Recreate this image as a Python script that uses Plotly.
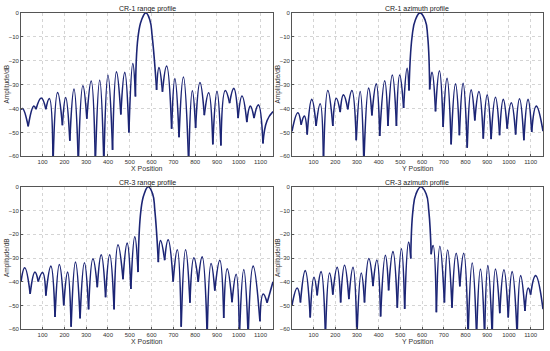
import plotly.graph_objects as go

# ---- data: vertex sequences (nulls / lobe peaks) ----
cr1_range_x = [1, 8, 34, 60, 70, 94, 115, 131, 148, 169, 191, 206, 225, 244, 264, 285, 303, 323, 342, 362, 381,
               400, 421, 439, 459, 477, 496, 514, 526, 538, 554, 574, 592, 603, 623, 634, 650, 669, 692, 707, 726,
               746, 770, 787, 802, 822, 842, 862, 881, 900, 918, 938, 958, 977, 997, 1015, 1037, 1053, 1070, 1090,
               1111, 1130, 1157]
cr1_range_y = [-40.5, -40.0, -47.5, -39.0, -40.3, -35.6, -40.3, -35.8, -63, -33.3, -47.0, -35.4, -53.5, -31.9, -63,
               -30.5, -44.3, -28.5, -63, -28.2, -63, -26.1, -57.3, -24.7, -42.5, -24.9, -50.0, -21.2, -35.0, -10, -3,
               0, -3, -10, -32.2, -22.9, -33.0, -22.2, -48.5, -27.5, -52.0, -26.8, -63, -32.6, -48.1, -29.1, -42.8,
               -33.4, -55.0, -32.8, -55.5, -32.5, -37.8, -31.6, -44.0, -34.8, -45.7, -39.0, -44.0, -38.5, -54.6,
               -45.0, -41.3]

cr1_azimuth_x = [1, 28, 43, 58, 71, 92, 112, 131, 146, 166, 189, 205, 223, 238, 258, 277, 297, 315, 332, 354, 369,
                 389, 405, 428, 443, 463, 482, 497, 515, 531, 540, 554, 569, 591, 614, 626, 635, 646, 662, 680, 697,
                 715, 734, 754, 772, 789, 808, 826, 843, 862, 882, 900, 918, 938, 957, 974, 992, 1011, 1031, 1049,
                 1069, 1088, 1105, 1126, 1157]
cr1_azimuth_y = [-49.5, -41.8, -46.8, -43.2, -50.9, -36.2, -47.3, -38.0, -63, -32.5, -47.3, -35.7, -41.5, -34.3,
                 -40.4, -32.5, -53.3, -32.9, -63, -31.5, -42.9, -29.7, -51.5, -28.4, -47.3, -26.0, -47.3, -26.0,
                 -39.8, -23.2, -32.5, -10, -3, 0, -3, -10, -32.0, -24.9, -41.2, -24.2, -47.7, -27.4, -55.0, -29.7,
                 -51.2, -29.5, -56.4, -32.2, -45.0, -32.9, -52.6, -34.3, -52.8, -35.3, -51.2, -36.2, -48.4, -37.6,
                 -50.9, -35.9, -53.3, -36.2, -49.8, -39.0, -49.5]

cr3_range_x = [1, 18, 43, 65, 80, 100, 115, 138, 157, 177, 197, 215, 231, 251, 272, 292, 311, 331, 351, 369, 389,
               408, 428, 446, 469, 488, 505, 523, 538, 551, 566, 585, 605, 615, 631, 641, 660, 676, 699, 718, 736,
               756, 776, 794, 814, 832, 855, 873, 890, 913, 931, 947, 969, 988, 1003, 1023, 1043, 1066, 1097, 1112,
               1130, 1157]
cr3_range_y = [-40.0, -34.1, -45.1, -35.9, -39.9, -36.1, -45.8, -33.4, -54.8, -32.7, -49.9, -35.9, -58.9, -31.7,
               -55.4, -32.0, -51.6, -30.3, -42.3, -28.6, -46.5, -28.6, -51.6, -24.4, -38.9, -23.7, -43.0, -21.0,
               -35.9, -10, -3, 0, -3, -10, -31.7, -22.6, -30.9, -22.3, -39.9, -26.5, -58.9, -26.5, -48.8, -29.9,
               -40.0, -29.5, -63, -32.3, -43.7, -30.9, -55.2, -34.5, -48.6, -36.8, -63, -34.8, -63, -33.4, -56.6,
               -45.1, -48.8, -40.0]

cr3_azimuth_x = [1, 25, 40, 62, 85, 102, 117, 135, 155, 174, 189, 209, 225, 243, 263, 282, 300, 320, 335, 355, 374,
                 392, 409, 431, 446, 466, 486, 505, 520, 538, 548, 558, 572, 595, 619, 631, 642, 651, 666, 682, 703,
                 718, 738, 757, 774, 792, 812, 831, 851, 869, 888, 903, 923, 938, 958, 977, 997, 1015, 1038, 1054,
                 1074, 1089, 1100, 1123, 1157]
cr3_azimuth_y = [-49.8, -42.6, -48.7, -35.3, -55.0, -38.1, -45.7, -35.7, -63, -36.3, -45.4, -33.9, -48.7, -33.0,
                 -47.3, -33.9, -63, -36.3, -48.7, -30.2, -41.8, -30.8, -54.6, -28.8, -43.6, -27.3, -50.9, -26.1,
                 -51.4, -23.3, -30.2, -10, -3, 0, -3, -10, -28.4, -24.7, -52.8, -25.0, -48.7, -26.6, -50.9, -28.0,
                 -41.9, -28.0, -63, -32.1, -63, -34.6, -63, -33.2, -63, -34.6, -53.2, -34.9, -55.0, -35.7, -63,
                 -37.4, -52.3, -42.6, -45.4, -37.4, -51.5]

titles = ["CR-1 range profile", "CR-1 azimuth profile", "CR-3 range profile", "CR-3 azimuth profile"]
x_titles = ["X Position", "Y Position", "X Position", "Y Position"]
y_title = "Amplitude/dB"
x_ticks = [100, 200, 300, 400, 500, 600, 700, 800, 900, 1000, 1100]
y_ticks = [0, -10, -20, -30, -40, -50, -60]

series = [(cr1_range_x, cr1_range_y), (cr1_azimuth_x, cr1_azimuth_y),
          (cr3_range_x, cr3_range_y), (cr3_azimuth_x, cr3_azimuth_y)]


def lobes(xs, ys):
    """Split the vertex sequence at each null so every lobe is its own smoothed arc."""
    px, py = [xs[0]], [ys[0]]
    for i in range(1, len(xs)):
        px.append(xs[i]); py.append(ys[i])
        if 0 < i < len(xs) - 1 and ys[i] < ys[i - 1] and ys[i] < ys[i + 1]:
            px.append(None); py.append(None)
            px.append(xs[i]); py.append(ys[i])
    return px, py


W, H = 550, 351
# plot boxes in pixels: (left, right, top, bottom)
boxes = [(21, 273, 10, 156), (292, 543, 10, 156), (21, 273, 187, 332), (292, 543, 187, 332)]

fig = go.Figure()
font = "Liberation Sans, Arial, sans-serif"
annotations = []
for k, ((xs, ys), (l, r, t, b)) in enumerate(zip(series, boxes)):
    sx = "" if k == 0 else str(k + 1)
    px, py = lobes(xs, ys)
    fig.add_trace(go.Scatter(x=px, y=py, mode="lines", xaxis="x" + sx, yaxis="y" + sx,
                             line=dict(color="#1c2575", width=1.6, shape="spline", smoothing=1.3),
                             connectgaps=False, showlegend=False, hoverinfo="skip"))
    common = dict(showline=True, mirror=True, linecolor="#555", linewidth=0.8,
                  showgrid=True, gridcolor="#d4d4d4", griddash="dot", gridwidth=1,
                  ticks="inside", ticklen=2, tickcolor="#555", zeroline=False,
                  tickfont=dict(family=font, size=6, color="#333"))
    fig.layout["xaxis" + sx] = dict(domain=[l / W, r / W], anchor="y" + sx, range=[1, 1157],
                                    tickvals=x_ticks, **common)
    fig.layout["yaxis" + sx] = dict(domain=[1 - b / H, 1 - t / H], anchor="x" + sx, range=[-60, 0],
                                    tickvals=y_ticks, **common)
    cx = (l + r) / 2 / W
    annotations.append(dict(text=titles[k], x=cx, y=1 - (t - 4) / H, xref="paper", yref="paper",
                            showarrow=False, xanchor="center", yanchor="middle",
                            font=dict(family=font, size=7, color="#222")))
    annotations.append(dict(text=x_titles[k], x=cx, y=1 - (b + 12.5) / H, xref="paper", yref="paper",
                            showarrow=False, xanchor="center", yanchor="middle",
                            font=dict(family=font, size=7, color="#333")))
    annotations.append(dict(text=y_title, x=(l - 14) / W, y=1 - (t + b) / 2 / H, xref="paper", yref="paper",
                            showarrow=False, xanchor="center", yanchor="middle", textangle=-90,
                            font=dict(family=font, size=6.5, color="#333")))

fig.update_layout(width=W, height=H, margin=dict(l=0, r=0, t=0, b=0),
                  paper_bgcolor="white", plot_bgcolor="white", annotations=annotations)
fig.write_html("out.html", config={"displayModeBar": False},
               post_script="document.body.style.margin='0';document.body.style.overflow='hidden';")
